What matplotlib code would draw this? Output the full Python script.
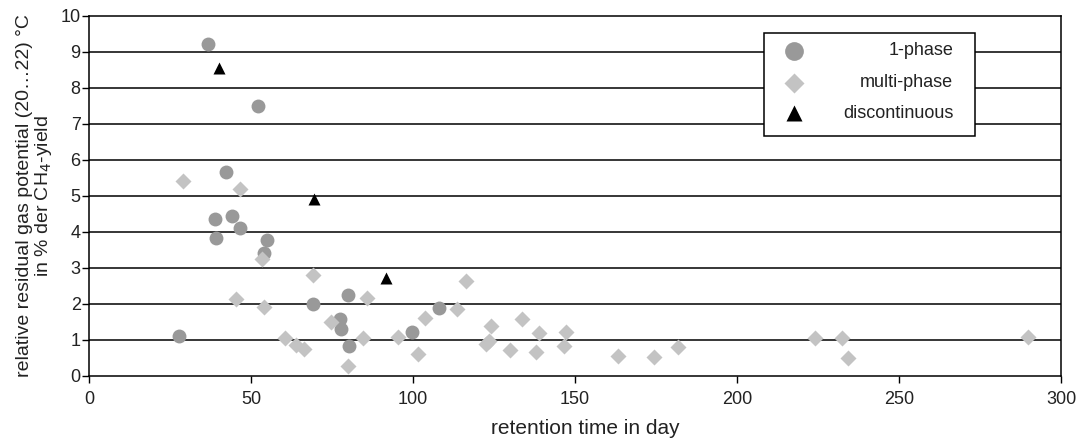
import matplotlib
matplotlib.use("Agg")
import matplotlib.pyplot as plt
from matplotlib.patches import Rectangle

plt.rcParams['font.family'] = ['Liberation Sans', 'DejaVu Sans']

# 1-phase
one_x = [36.6, 52.1, 42.3, 38.9, 44.2, 46.6, 39.2, 54.8, 54.1, 27.9,
         69.0, 80.0, 77.5, 77.7, 80.2, 99.6, 108.1]
one_y = [9.21, 7.51, 5.65, 4.37, 4.44, 4.11, 3.82, 3.78, 3.41, 1.10,
         2.00, 2.25, 1.58, 1.30, 0.83, 1.22, 1.87]

# multi-phase
multi_x = [28.9, 46.5, 53.3, 69.0, 45.4, 54.1, 85.7, 60.5, 63.9, 66.3,
           74.7, 84.7, 80.0, 95.2, 103.7, 101.6, 116.3, 113.6, 124.1, 122.5,
           123.5, 129.8, 133.5, 138.8, 138.0, 147.1, 146.5, 163.2, 174.3, 181.8,
           224.1, 232.5, 234.1, 289.9]
multi_y = [5.41, 5.18, 3.24, 2.81, 2.12, 1.92, 2.15, 1.04, 0.85, 0.74,
           1.49, 1.04, 0.28, 1.07, 1.60, 0.60, 2.62, 1.85, 1.38, 0.87,
           0.97, 0.71, 1.57, 1.18, 0.65, 1.22, 0.83, 0.56, 0.52, 0.81,
           1.04, 1.04, 0.48, 1.08]

# discontinuous
disc_x = [40.2, 69.4, 91.5]
disc_y = [8.56, 4.90, 2.71]

labels = ['1-phase', 'multi-phase', 'discontinuous']

c_one = '#999999'
c_multi = '#c3c3c3'
c_disc = '#000000'
txt = '#222222'

fig = plt.figure(figsize=(10.78, 4.38), dpi=100)
ax = fig.add_axes([0.0826, 0.1422, 0.9017, 0.8213])

for yv in range(1, 10):
    ax.axhline(yv, color='black', lw=1.1, zorder=1)

ax.plot(one_x, one_y, 'o', color=c_one, ms=10, mec='none', zorder=3)
ax.plot(multi_x, multi_y, 'D', color=c_multi, ms=8, mec='none', zorder=4)
ax.plot(disc_x, disc_y, '^', color=c_disc, ms=8.5, mec='none', zorder=5)

ax.set_xlim(0, 300)
ax.set_ylim(0, 10)
ax.set_xticks(range(0, 301, 50))
ax.set_yticks(range(0, 11))
ax.tick_params(axis='x', direction='out', length=5, width=1, labelsize=13,
               colors='black', labelcolor=txt, pad=6)
ax.tick_params(axis='y', direction='out', length=5, width=1, labelsize=13,
               colors='black', labelcolor=txt, pad=1)
for s in ax.spines.values():
    s.set_linewidth(1.1)
    s.set_color('black')

ax.set_xlabel('retention time in day', fontsize=15, color=txt, labelpad=8, x=0.511)
ax.set_ylabel('relative residual gas potential (20…22) °C\nin % der CH$_4$-yield',
              fontsize=14, color=txt, labelpad=5, linespacing=1.0)

# legend box, markers left, labels right-aligned
ax.add_patch(Rectangle((0.694, 0.666), 0.2175, 0.287, transform=ax.transAxes,
                       facecolor='white', edgecolor='black', lw=1.1, zorder=6))
rows = [0.9027, 0.8146, 0.7294]
styles = [('o', c_one, 13.5), ('D', c_multi, 10), ('^', c_disc, 11)]
for (mk, col, ms), yy, lab in zip(styles, rows, labels):
    ax.plot([0.7253], [yy], mk, color=col, ms=ms, mec='none',
            transform=ax.transAxes, clip_on=False, zorder=7)
    ax.text(0.889, yy, lab, ha='right', va='center', fontsize=13, color=txt,
            transform=ax.transAxes, zorder=7)

fig.savefig('out.png', dpi=100)
